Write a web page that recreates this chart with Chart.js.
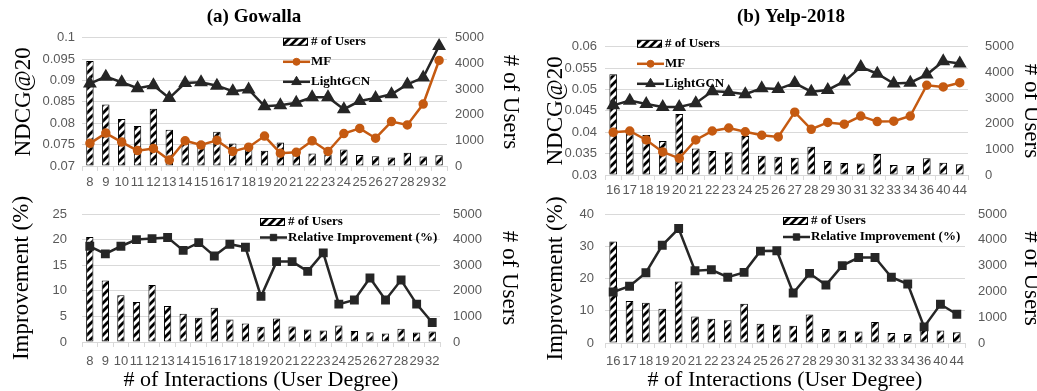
<!DOCTYPE html>
<html lang="en">
<head>
  <meta charset="UTF-8" />
  <title>Performance by user degree</title>
  <script src="https://cdn.jsdelivr.net/npm/chart.js"></script>
  <style>
    body { margin: 0; background: #fff; }
    #wrap { position: relative; width: 1037px; height: 391px; overflow: hidden; background: #fff; }
    canvas { position: absolute; }
  </style>
</head>
<body>
  <div id="wrap">
    <canvas id="gowallaTop"></canvas>
    <canvas id="yelpTop"></canvas>
    <canvas id="gowallaBottom"></canvas>
    <canvas id="yelpBottom"></canvas>
  </div>
  <script>
    // values
    const gowallaDegrees = ['8', '9', '10', '11', '12', '13', '14', '15', '16', '17', '18', '19', '20', '21', '22', '23', '24', '25', '26', '27', '28', '29', '32'];
    const gowallaUsers = [4100, 2400, 1830, 1560, 2230, 1410, 1100, 950, 1340, 880, 720, 595, 915, 610, 490, 450, 645, 425, 380, 335, 515, 370, 415];
    const gowallaMF = [0.0753, 0.0777, 0.0756, 0.0736, 0.0741, 0.0714, 0.0759, 0.0749, 0.0760, 0.0734, 0.0744, 0.0770, 0.0730, 0.0732, 0.0759, 0.0734, 0.0776, 0.0788, 0.0765, 0.0804, 0.0796, 0.0845, 0.0947];
    const gowallaLightGCN = [0.0893, 0.0909, 0.0896, 0.0882, 0.0889, 0.0859, 0.0894, 0.0896, 0.0888, 0.0875, 0.0879, 0.0840, 0.0842, 0.0848, 0.0861, 0.0861, 0.0833, 0.0852, 0.0859, 0.0868, 0.0891, 0.0907, 0.0981];
    const gowallaImprovement = [18.7, 17.2, 18.7, 20.0, 20.2, 20.4, 17.9, 19.4, 16.8, 19.1, 18.5, 8.9, 15.7, 15.7, 13.8, 17.4, 7.4, 8.2, 12.5, 8.2, 12.1, 7.4, 3.8];

    const yelpDegrees = ['16', '17', '18', '19', '20', '21', '22', '23', '24', '25', '26', '27', '28', '29', '30', '31', '32', '33', '34', '36', '40', '44'];
    const yelpUsers = [3930, 1630, 1560, 1330, 2380, 1030, 940, 885, 1520, 750, 710, 670, 1100, 545, 470, 450, 815, 390, 350, 650, 480, 415];
    const yelpMF = [0.0400, 0.0403, 0.0382, 0.0354, 0.0339, 0.0382, 0.0403, 0.0410, 0.0401, 0.0393, 0.0389, 0.0447, 0.0407, 0.0423, 0.0419, 0.0438, 0.0425, 0.0426, 0.0438, 0.0510, 0.0506, 0.0516];
    const yelpLightGCN = [0.0463, 0.0474, 0.0466, 0.0459, 0.0459, 0.0468, 0.0496, 0.0494, 0.0489, 0.0503, 0.0501, 0.0515, 0.0495, 0.0499, 0.0519, 0.0553, 0.0537, 0.0514, 0.0516, 0.0535, 0.0566, 0.0561];
    const yelpImprovement = [15.8, 17.6, 21.8, 30.3, 35.5, 22.4, 22.7, 20.4, 21.9, 28.5, 28.6, 15.5, 21.6, 18.0, 24.0, 26.5, 26.5, 20.4, 18.3, 5.0, 12.0, 8.9];

    const serif = '"Liberation Serif", "Times New Roman", serif';
    const sans = '"Liberation Sans", Arial, sans-serif';
    const tickColor = '#595959';
    const gridColor = '#d9d9d9';

    // white bar with black /// stripes
    function makeHatch() {
      const n = 8;
      const c = document.createElement('canvas');
      c.width = n; c.height = n;
      const g = c.getContext('2d');
      g.fillStyle = '#fff';
      g.fillRect(0, 0, n, n);
      g.strokeStyle = '#000';
      g.lineWidth = 2.8;
      g.beginPath();
      g.moveTo(-1, n + 1); g.lineTo(n + 1, -1);
      g.moveTo(-2, 2); g.lineTo(2, -2);
      g.moveTo(n - 2, n + 2); g.lineTo(n + 2, n - 2);
      g.stroke();
      return g.createPattern(c, 'repeat');
    }
    const hatch = makeHatch();

    // legend drawn inside the plot, at an offset from the chart area corner
    const panelLegend = {
      id: 'panelLegend',
      afterDraw(chart, args, opts) {
        const { ctx, chartArea } = chart;
        const x = chartArea.left + opts.x;
        let y = chartArea.top + opts.y;
        chart.data.datasets.forEach(ds => {
          ctx.save();
          if (ds.type === 'bar') {
            ctx.fillStyle = ds.backgroundColor;
            ctx.fillRect(x, y - 3.5, 25, 7);
            ctx.strokeStyle = ds.borderColor;
            ctx.lineWidth = 1;
            ctx.strokeRect(x + 0.5, y - 3.5, 24, 7);
          } else {
            ctx.strokeStyle = ds.borderColor;
            ctx.lineWidth = ds.borderWidth;
            ctx.beginPath();
            ctx.moveTo(x, y);
            ctx.lineTo(x + 27, y);
            ctx.stroke();
            ctx.fillStyle = ds.pointBackgroundColor;
            ctx.lineWidth = 1;
            Chart.helpers.drawPoint(ctx, { pointStyle: ds.pointStyle, radius: ds.pointRadius, borderWidth: 1, rotation: 0 }, x + 13.5, y);
          }
          ctx.fillStyle = '#000';
          ctx.font = 'bold 13px ' + serif;
          ctx.textBaseline = 'middle';
          ctx.fillText(ds.label, x + 28, y);
          ctx.restore();
          y += opts.gap;
        });
      }
    };

    function lineSet(label, data, color, style, radius) {
      return {
        type: 'line', label, data, yAxisID: 'y',
        borderColor: color, backgroundColor: color, borderWidth: 2.5,
        pointStyle: style, pointRadius: radius, pointBackgroundColor: color, pointBorderColor: color,
        tension: 0, order: 1
      };
    }

    function panel(id, p) {
      const canvas = document.getElementById(id);
      canvas.width = p.w;
      canvas.height = p.h;
      canvas.style.left = p.x + 'px';
      canvas.style.top = p.y + 'px';

      const datasets = [{
        type: 'bar', label: '# of Users', data: p.users, yAxisID: 'y1',
        backgroundColor: hatch, borderColor: '#000', borderWidth: 1, borderSkipped: false,
        barPercentage: 0.52, categoryPercentage: 0.9, order: 3
      }].concat(p.lines);

      return new Chart(canvas, {
        type: 'bar',
        data: { labels: p.labels, datasets },
        plugins: [panelLegend],
        options: {
          responsive: false,
          animation: false,
          devicePixelRatio: 1,
          layout: { padding: { top: p.padTop || 0 } },
          plugins: {
            legend: { display: false },
            tooltip: { enabled: false },
            title: {
              display: !!p.title,
              text: p.title,
              color: '#000',
              font: { family: serif, size: 19, weight: 'bold', lineHeight: 1.2 },
              padding: { top: 6, bottom: p.titleGap || 0 }
            },
            panelLegend: p.legend
          },
          scales: {
            x: {
              afterFit: s => { s.height = p.xH; },
              grid: { display: true, drawOnChartArea: false, drawTicks: true, tickLength: 5, color: gridColor, offset: true },
              border: { display: true, color: gridColor },
              ticks: { autoSkip: false, maxRotation: 0, padding: p.xPad, color: tickColor, font: { family: sans, size: 13 } },
              title: {
                display: !!p.xTitle, text: p.xTitle, color: '#000',
                font: { family: serif, size: 22, lineHeight: 1 }, padding: 0
              }
            },
            y: {
              position: 'left',
              min: p.yMin, max: p.yMax,
              afterFit: s => { s.width = p.leftW; },
              grid: { color: gridColor, drawTicks: false },
              border: { display: false },
              ticks: {
                stepSize: p.yStep, padding: p.leftPad, color: tickColor, font: { family: sans, size: 13 },
                callback: v => String(parseFloat(v.toFixed(3)))
              },
              title: {
                display: true, text: p.yTitle, color: '#000',
                font: { family: serif, size: 23, lineHeight: 1.2 }, padding: { top: p.yTitlePad }
              }
            },
            y1: {
              position: 'right',
              min: 0, max: 5000,
              afterFit: s => { s.width = p.rightW; },
              grid: { drawOnChartArea: false, drawTicks: false },
              border: { display: false },
              ticks: {
                stepSize: 1000, padding: p.rightPad, color: tickColor, font: { family: sans, size: 13 },
                callback: v => String(v)
              },
              title: {
                display: true, text: '# of Users', color: '#000',
                font: { family: serif, size: 23, lineHeight: 1.2 }, padding: { top: 0 }
              }
            }
          }
        }
      });
    }

    panel('gowallaTop', {
      x: -16, y: 0, w: 540, h: 200,
      title: '(a) Gowalla', titleGap: 9,
      labels: gowallaDegrees, users: gowallaUsers,
      lines: [
        lineSet('MF', gowallaMF, '#C55A11', 'circle', 3.5),
        lineSet('LightGCN', gowallaLightGCN, '#262626', 'triangle', 5.5)
      ],
      yMin: 0.07, yMax: 0.1, yStep: 0.005, yTitle: 'NDCG@20', yTitlePad: 26,
      leftW: 98, leftPad: 7, rightW: 77, rightPad: 8,
      xH: 34, xPad: 4,
      legend: { x: 201, y: 4, gap: 20 }
    });

    panel('yelpTop', {
      x: 537, y: 0, w: 508, h: 200,
      title: '(b) Yelp-2018', titleGap: 18,
      labels: yelpDegrees, users: yelpUsers,
      lines: [
        lineSet('MF', yelpMF, '#C55A11', 'circle', 3.5),
        lineSet('LightGCN', yelpLightGCN, '#262626', 'triangle', 5.5)
      ],
      yMin: 0.03, yMax: 0.06, yStep: 0.005, yTitle: 'NDCG@20', yTitlePad: 5,
      leftW: 68, leftPad: 8, rightW: 77, rightPad: 17,
      xH: 25, xPad: 3,
      legend: { x: 32, y: -3, gap: 20 }
    });

    panel('gowallaBottom', {
      x: 0, y: 190, w: 523, h: 201, padTop: 24,
      labels: gowallaDegrees, users: gowallaUsers,
      lines: [
        lineSet('Relative Improvement (%)', gowallaImprovement, '#262626', 'rect', 4.5)
      ],
      yMin: 0, yMax: 25, yStep: 5, yTitle: 'Improvement (%)', yTitlePad: 8,
      leftW: 82, leftPad: 15, rightW: 83, rightPad: 13,
      xH: 49, xPad: 7, xTitle: '# of Interactions (User Degree)',
      legend: { x: 178, y: 8, gap: 15.5 }
    });

    panel('yelpBottom', {
      x: 537, y: 190, w: 508, h: 201, padTop: 24,
      labels: yelpDegrees, users: yelpUsers,
      lines: [
        lineSet('Relative Improvement (%)', yelpImprovement, '#262626', 'rect', 4.5)
      ],
      yMin: 0, yMax: 40, yStep: 10, yTitle: 'Improvement (%)', yTitlePad: 5,
      leftW: 68, leftPad: 11, rightW: 80, rightPad: 13,
      xH: 48, xPad: 6, xTitle: '# of Interactions (User Degree)',
      legend: { x: 178, y: 7, gap: 16 }
    });
  </script>
</body>
</html>
